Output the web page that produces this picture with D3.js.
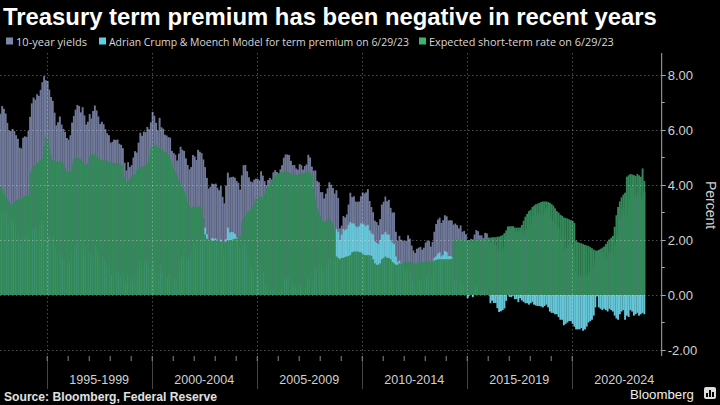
<!DOCTYPE html>
<html><head><meta charset="utf-8">
<script src="https://cdn.jsdelivr.net/npm/d3@7"></script>
<style>body{margin:0;background:#000;} svg{display:block;}</style>
</head><body>
<svg id="c" width="720" height="405"></svg>
<script>
// Monthly data, Oct 1992 .. Jun 2023
const firstMonth = new Date(1992, 9, 1);
const yields10y = [
6.59,6.87,6.77,
6.60,6.26,5.98,5.97,6.04,5.96,5.81,5.68,5.36,5.33,5.72,5.77,
5.75,5.97,6.48,6.97,7.18,7.10,7.30,7.24,7.46,7.74,7.96,7.81,
7.78,7.47,7.20,7.06,6.63,6.17,6.28,6.49,6.20,6.04,5.93,5.71,
5.65,5.81,6.27,6.51,6.74,6.91,6.87,6.64,6.83,6.53,6.20,6.30,
6.58,6.42,6.69,6.89,6.71,6.49,6.22,6.30,6.21,6.03,5.88,5.81,
5.54,5.57,5.65,5.64,5.65,5.50,5.46,5.34,4.81,4.53,4.83,4.65,
4.72,5.00,5.23,5.18,5.54,5.90,5.79,5.94,5.92,6.11,6.03,6.28,
6.66,6.52,6.26,5.99,6.44,6.10,6.05,5.83,5.80,5.74,5.72,5.24,
5.16,5.10,4.89,5.14,5.39,5.28,5.24,4.97,4.73,4.57,4.65,5.09,
5.04,4.91,5.28,5.21,5.16,4.93,4.65,4.26,3.87,3.94,4.05,4.03,
4.05,3.90,3.81,3.96,3.57,3.33,3.98,4.45,4.27,4.29,4.30,4.27,
4.15,4.08,3.83,4.35,4.72,4.73,4.50,4.28,4.13,4.10,4.19,4.23,
4.22,4.17,4.50,4.34,4.14,4.00,4.18,4.26,4.20,4.46,4.54,4.47,
4.42,4.57,4.72,4.99,5.11,5.11,5.09,4.88,4.72,4.73,4.60,4.56,
4.76,4.72,4.56,4.69,4.75,5.10,5.00,4.67,4.52,4.53,4.15,4.10,
3.74,3.74,3.51,3.68,3.88,4.10,4.01,3.89,3.69,3.81,3.53,2.42,
2.52,2.87,2.82,2.93,3.29,3.72,3.56,3.59,3.40,3.39,3.40,3.59,
3.73,3.69,3.73,3.85,3.42,3.20,3.01,2.70,2.65,2.54,2.76,3.29,
3.39,3.58,3.41,3.46,3.17,3.00,3.00,2.30,1.98,2.15,2.01,1.98,
1.97,1.97,2.17,2.05,1.80,1.62,1.53,1.68,1.72,1.75,1.65,1.72,
1.91,1.98,1.96,1.76,1.93,2.30,2.58,2.74,2.81,2.62,2.72,2.90,
2.86,2.71,2.72,2.71,2.56,2.60,2.54,2.42,2.53,2.30,2.33,2.21,
1.88,1.98,2.04,1.94,2.20,2.36,2.32,2.17,2.17,2.07,2.26,2.24,
2.09,1.78,1.89,1.81,1.81,1.64,1.50,1.56,1.63,1.76,2.14,2.49,
2.43,2.42,2.48,2.30,2.30,2.19,2.32,2.21,2.20,2.36,2.35,2.40,
2.58,2.86,2.84,2.87,2.98,2.91,2.89,2.89,3.00,3.15,3.12,2.83,
2.71,2.68,2.57,2.53,2.40,2.07,2.06,1.63,1.70,1.71,1.81,1.86,
1.76,1.50,0.87,0.66,0.67,0.73,0.62,0.65,0.68,0.79,0.87,0.93,
1.08,1.26,1.61,1.64,1.62,1.52,1.32,1.28,1.37,1.58,1.56,1.47,
1.76,1.93,2.13,2.75,2.90,3.14,2.90,2.90,3.52,3.98,3.89,3.62,
3.53,3.75,3.66,3.46,3.57,3.75
];
const expectedRate = [
3.95,3.85,3.70,
3.60,3.50,3.40,3.27,3.30,3.38,3.45,3.48,3.50,3.52,3.56,3.60,
3.60,3.62,4.45,4.60,4.70,4.72,4.80,4.85,4.90,5.00,5.40,5.76,
5.70,5.35,5.10,4.90,4.85,4.85,4.85,4.88,4.85,4.80,4.65,4.50,
4.48,4.50,4.75,4.95,4.98,5.00,4.98,4.95,4.85,4.75,4.73,4.80,
5.05,5.10,5.12,5.10,5.05,5.00,4.92,4.90,4.90,4.90,4.88,4.85,
4.82,4.80,4.80,4.80,4.80,4.78,4.75,4.70,4.30,4.12,4.15,4.25,
4.30,4.36,4.40,4.55,4.60,4.65,4.65,4.70,4.70,4.80,5.00,5.30,
5.40,5.45,5.45,5.40,5.35,5.30,5.25,5.20,5.20,5.10,4.95,4.75,
4.60,4.50,4.36,4.20,4.05,3.90,3.76,3.60,3.40,3.25,3.15,3.20,
3.22,3.20,3.25,3.20,3.15,2.80,2.20,2.05,2.00,2.00,1.98,1.98,
2.00,1.97,1.95,1.95,1.93,1.90,1.95,2.00,2.00,2.00,2.02,2.05,
2.05,2.10,2.15,2.65,2.80,2.90,3.00,3.05,3.10,3.20,3.35,3.50,
3.55,3.58,3.58,3.52,3.70,3.88,3.95,4.05,4.15,4.25,4.32,4.38,
4.42,4.45,4.47,4.48,4.48,4.47,4.45,4.42,4.38,4.36,4.36,4.38,
4.40,4.42,4.42,4.45,4.45,4.48,4.45,4.36,3.88,3.50,3.20,3.03,
2.85,2.70,2.67,2.67,2.75,2.79,2.70,2.60,2.40,1.40,1.35,1.30,
1.35,1.35,1.38,1.40,1.42,1.45,1.55,1.58,1.58,1.58,1.56,1.55,
1.50,1.45,1.45,1.45,1.45,1.42,1.30,1.15,1.10,1.10,1.15,1.30,
1.35,1.40,1.35,1.35,1.30,1.20,1.15,1.10,1.10,1.15,1.15,1.15,
1.18,1.20,1.22,1.20,1.18,1.15,1.15,1.15,1.18,1.20,1.20,1.20,
1.22,1.22,1.22,1.20,1.22,1.25,1.28,1.30,1.30,1.30,1.30,1.30,
1.30,1.30,1.30,1.32,2.00,2.02,2.02,2.00,2.00,2.00,2.00,2.02,
2.00,2.00,2.02,2.02,2.02,2.02,2.02,2.03,2.03,2.03,2.05,2.05,
2.05,2.08,2.10,2.10,2.10,2.12,2.12,2.15,2.18,2.25,2.35,2.45,
2.50,2.50,2.50,2.45,2.45,2.45,2.45,2.55,2.70,2.85,2.95,3.05,
3.10,3.20,3.25,3.30,3.32,3.35,3.38,3.40,3.40,3.40,3.38,3.35,
3.30,3.25,3.15,3.05,3.00,2.92,2.88,2.82,2.80,2.78,2.75,2.72,
2.70,2.62,1.98,1.92,1.90,1.88,1.85,1.82,1.80,1.78,1.74,1.70,
1.65,1.62,1.60,1.62,1.68,1.72,1.76,1.85,1.95,2.02,2.08,2.15,
2.48,2.90,3.20,3.40,3.55,3.65,3.72,4.30,4.35,4.40,4.38,4.36,
4.33,4.40,4.35,4.30,4.60,4.15
];
const termPremium = [
2.64,3.02,3.07,
3.00,2.76,2.58,2.70,2.74,2.58,2.36,2.20,1.86,1.81,2.16,2.17,
2.15,2.35,2.03,2.37,2.48,2.38,2.50,2.39,2.56,2.74,2.56,2.05,
2.08,2.12,2.10,2.16,1.78,1.32,1.43,1.61,1.35,1.24,1.28,1.21,
1.17,1.31,1.52,1.56,1.76,1.91,1.89,1.69,1.98,1.78,1.47,1.50,
1.53,1.32,1.57,1.79,1.66,1.49,1.30,1.40,1.31,1.13,1.00,0.96,
0.72,0.77,0.85,0.84,0.85,0.72,0.71,0.64,0.51,0.41,0.68,0.40,
0.42,0.64,0.83,0.63,0.94,1.25,1.14,1.24,1.22,1.31,1.03,0.98,
1.26,1.07,0.81,0.59,1.09,0.80,0.80,0.63,0.60,0.64,0.77,0.49,
0.56,0.60,0.53,0.94,1.34,1.38,1.48,1.37,1.33,1.32,1.50,1.89,
1.82,1.71,2.03,2.01,2.01,2.13,2.45,2.21,1.87,1.94,2.07,2.05,
2.05,1.93,1.86,2.01,1.64,1.43,2.03,2.45,2.27,2.29,2.28,2.22,
2.10,1.98,1.68,1.70,1.92,1.83,1.50,1.23,1.03,0.90,0.84,0.73,
0.67,0.59,0.92,0.82,0.44,0.12,0.23,0.21,0.05,0.21,0.22,0.09,
0.00,0.12,0.25,0.51,0.63,0.64,0.64,0.46,0.34,0.37,0.24,0.18,
0.36,0.30,0.14,0.24,0.30,0.62,0.55,0.31,0.64,1.03,0.95,1.07,
0.89,1.04,0.84,1.01,1.13,1.31,1.31,1.29,1.29,2.40,2.30,2.00,
2.20,2.40,2.35,2.40,2.55,2.65,2.60,2.60,2.50,2.45,2.50,2.60,
2.60,2.55,2.50,2.55,2.35,2.25,2.20,1.95,1.90,1.85,2.00,2.20,
2.20,2.30,2.20,2.20,2.00,1.90,1.85,1.40,1.20,1.25,1.15,1.10,
0.79,0.77,0.95,0.85,0.62,0.47,0.38,0.53,0.54,0.55,0.45,0.52,
0.69,0.76,0.74,0.56,0.71,1.35,1.40,1.50,1.55,1.40,1.45,1.60,
1.56,1.41,1.42,1.39,0.56,0.58,0.52,0.42,0.53,0.30,0.33,0.19,
-0.12,-0.02,0.02,-0.08,0.18,0.34,0.30,0.14,0.14,0.04,0.21,0.19,
0.04,-0.30,-0.21,-0.29,-0.29,-0.48,-0.62,-0.59,-0.55,-0.49,-0.21,0.04,
-0.07,-0.08,-0.02,-0.15,-0.15,-0.26,-0.12,-0.20,-0.25,-0.30,-0.30,-0.35,
-0.30,-0.25,-0.35,-0.38,-0.40,-0.40,-0.42,-0.45,-0.40,-0.35,-0.45,-0.60,
-0.65,-0.65,-0.70,-0.70,-0.80,-0.90,-0.90,-1.10,-1.05,-1.00,-0.95,-0.95,
-1.05,-1.15,-1.25,-1.25,-1.25,-1.20,-1.30,-1.25,-1.15,-1.00,-0.95,-0.90,
-0.75,-0.45,-0.05,-0.45,-0.50,-0.55,-0.50,-0.55,-0.60,-0.50,-0.55,-0.60,
-0.75,-0.85,-0.90,-0.70,-0.60,-0.55,-0.90,-0.75,-0.80,-0.55,-0.60,-0.75,
-0.70,-0.65,-0.75,-0.70,-0.65,-0.70
];
const yTickValues = [-2, 0, 2, 4, 6, 8];
const yMinorTicks = [-1, 1, 3, 5, 7];
const periodStarts = [1995, 2000, 2005, 2010, 2015, 2020];
const periodLabels = ["1995-1999", "2000-2004", "2005-2009", "2010-2014", "2015-2019", "2020-2024"];
const seriesNames = ["10-year yields", "Adrian Crump & Moench Model for term premium on 6/29/23", "Expected short-term rate on 6/29/23"];
const titleText = "Treasury term premium has been negative in recent years";
const sourceText = "Source: Bloomberg, Federal Reserve";

const colYield = "#6f7898", colTP = "#66c6d8", colER = "#34895a";
const legendCols = ["#7d87a8", "#5fd0e4", "#3cb46e"];

const svg = d3.select("#c");
svg.append("rect").attr("width", 720).attr("height", 405).attr("fill", "#000");

const plotTop = 53, plotBottom = 356, plotRight = 661.7;
const x = d3.scaleTime().domain([new Date(1995,0,1), new Date(2020,0,1)]).range([46.7, 571.7]);
const y = d3.scaleLinear().domain([-2, 8]).range([350, 75]);

const data = yields10y.map((v, i) => ({
  d0: d3.timeMonth.offset(firstMonth, i),
  d1: d3.timeMonth.offset(firstMonth, i + 1),
  yld: v, er: expectedRate[i], tp: termPremium[i]
}));

const g = svg.append("g");
function bars(cls, col, top, bot) {
  g.selectAll("rect." + cls).data(data).join("rect").attr("class", cls)
    .attr("x", d => x(d.d0)).attr("width", d => x(d.d1) - x(d.d0) + 0.15)
    .attr("y", d => y(top(d))).attr("height", d => Math.max(0, y(bot(d)) - y(top(d))))
    .attr("fill", col);
}
bars("yl", colYield, d => Math.max(d.yld, 0), d => Math.min(d.yld, 0));
bars("tp", colTP, d => Math.max(d.tp, 0), d => Math.min(d.tp, 0));
bars("er", colER, d => Math.max(d.er, 0), d => Math.min(d.er, 0));

// gridlines
const grid = svg.append("g").attr("stroke", "rgba(255,255,255,0.3)").attr("stroke-dasharray", "1.5,2.5").attr("stroke-width", 1);
yTickValues.forEach(v => grid.append("line").attr("x1", 0).attr("x2", plotRight).attr("y1", y(v) + 0.5).attr("y2", y(v) + 0.5));
periodStarts.forEach(yr => { const px = Math.round(x(new Date(yr,0,1))) + 0.5;
  grid.append("line").attr("x1", px).attr("x2", px).attr("y1", plotTop).attr("y2", plotBottom); });

// period separators below plot
periodStarts.forEach(yr => { const px = Math.round(x(new Date(yr,0,1))) + 0.5;
  svg.append("line").attr("x1", px).attr("x2", px).attr("y1", plotBottom).attr("y2", 389).attr("stroke", "#444").attr("stroke-width", 1); });

// x axis yearly ticks
const xAxis = d3.axisBottom(x).ticks(d3.timeYear.every(1)).tickSize(5).tickFormat("");
const xa = svg.append("g").attr("transform", `translate(0,${plotBottom})`).call(xAxis);
xa.select(".domain").remove();
xa.selectAll("line").attr("stroke", "#888");
xa.selectAll(".tick").filter(d => x(d) > plotRight || x(d) < 0).remove();

// period labels
periodLabels.forEach((t, i) => {
  const a = x(new Date(periodStarts[i],0,1)), b = x(new Date(periodStarts[i]+5,0,1));
  svg.append("text").attr("x", (a + b) / 2).attr("y", 383.5).attr("text-anchor", "middle")
    .attr("font-family", "Liberation Sans, Arial, sans-serif").attr("font-size", 12.5).attr("fill", "#d0d0d0").text(t);
});

// y axis
const yAxis = d3.axisRight(y).tickValues(yTickValues).tickFormat(d => d.toFixed(2)).tickSize(4).tickPadding(2);
const ya = svg.append("g").attr("transform", `translate(${plotRight},0)`).call(yAxis);
ya.select(".domain").remove();
ya.append("line").attr("x1", 0).attr("x2", 0).attr("y1", plotTop).attr("y2", plotBottom).attr("stroke", "#aaa");
ya.selectAll(".tick line").attr("stroke", "#aaa");
ya.selectAll(".tick text").attr("fill", "#d0d0d0").attr("font-size", 13).attr("font-family", "Liberation Sans, Arial, sans-serif");
yMinorTicks.forEach(v => ya.append("line").attr("x1", 0).attr("x2", 3).attr("y1", y(v)).attr("y2", y(v)).attr("stroke", "#aaa"));

svg.append("text").attr("transform", "translate(706,205) rotate(90)").attr("text-anchor", "middle")
  .attr("font-family", "Liberation Sans, Arial, sans-serif").attr("font-size", 14).attr("fill", "#d0d0d0").text("Percent");

// fit helper
function fit(sel, target) {
  const fs = parseFloat(sel.attr("font-size"));
  const w = sel.node().getComputedTextLength();
  sel.attr("font-size", (fs * target / w).toFixed(2));
}

// title
const title = svg.append("text").attr("x", 3).attr("y", 25).attr("font-family", "Liberation Sans, Arial, sans-serif")
  .attr("font-weight", "bold").attr("font-size", 21).attr("fill", "#fff").text(titleText);
fit(title, 654);

// legend
const legX = [6, 99, 419], legW = [71, 300, 185];
seriesNames.forEach((n, i) => {
  svg.append("rect").attr("x", legX[i]).attr("y", 37.5).attr("width", 7).attr("height", 7).attr("fill", legendCols[i]);
  const t = svg.append("text").attr("x", legX[i] + 10).attr("y", 46).attr("font-family", "Open Sans, Liberation Sans, sans-serif")
    .attr("font-size", 12).attr("fill", "#d8d8d8").text(n);
  fit(t, legW[i]);
});

// source
const src = svg.append("text").attr("x", 4).attr("y", 401).attr("font-family", "Liberation Sans, Arial, sans-serif")
  .attr("font-weight", "bold").attr("font-size", 11).attr("fill", "#e0e0e0").text(sourceText);
fit(src, 213);

const bb = svg.append("text").attr("x", 630).attr("y", 399).attr("font-family", "Liberation Sans, Arial, sans-serif")
  .attr("font-size", 13).attr("fill", "#eee").text("Bloomberg");
fit(bb, 64);
const logo = svg.append("g").attr("transform", "translate(704,387)");
logo.append("rect").attr("width", 12).attr("height", 12).attr("rx", 2).attr("fill", "#ddd");
[[2,6,2,4],[5,3,2,7],[8,5,2,5]].forEach(b => logo.append("rect").attr("x", b[0]).attr("y", b[1]).attr("width", b[2]).attr("height", b[3]).attr("fill", "#000"));
</script>
</body></html>
